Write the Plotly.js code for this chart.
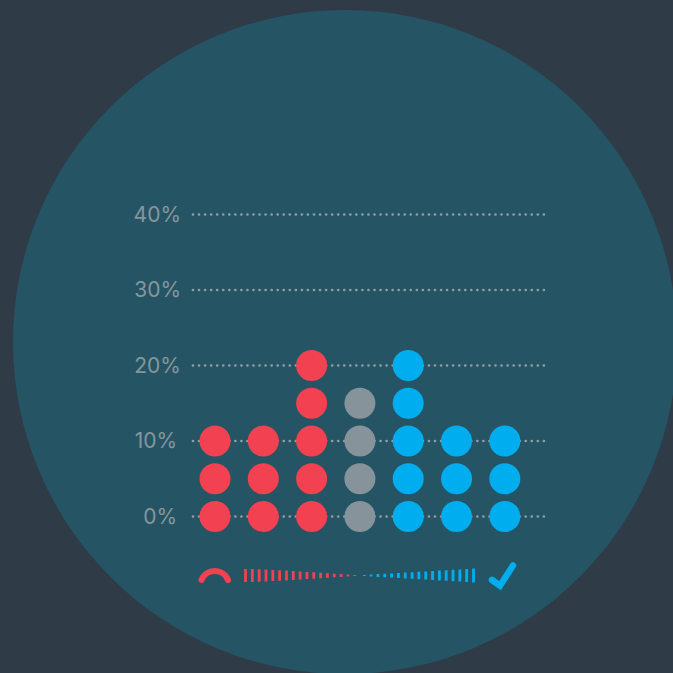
<!DOCTYPE html>
<html>
<head>
<meta charset="utf-8">
<script src="https://cdn.plot.ly/plotly-3.0.1.min.js"></script>
<style>
html,body{margin:0;padding:0;background:#2f3c48;overflow:hidden}
.js-line{stroke-linecap:round}
.gridlayer path{shape-rendering:auto !important;stroke-linecap:round}
</style>
</head>
<body>
<div id="chart" style="width:673px;height:673px"></div>
<script>
// Percent stack heights, one dot = 5%
const redColumns = [0, 1, 2];
const redValues = [10, 10, 20];
const grayColumns = [3];
const grayValues = [15];
const blueColumns = [4, 5, 6];
const blueValues = [20, 10, 10];
const dotStep = 5;
const tickValues = [0, 10, 20, 30, 40];
const tickLabels = ['0%\u2009', '10%\u2009', '20%', '30%', '40%'];

// Legend strip: bar heights
const stripRedHeights = [13, 13, 12.5, 12, 11, 10.5, 10, 9, 8, 7, 6.5, 5.5, 4.5, 3.5, 3, 2, 1];
const stripBlueHeights = [1, 2, 3, 3.5, 4, 5, 6, 6.5, 7.5, 8, 9, 10, 10.5, 11.5, 12, 13, 14];
const stripBlueOffset = 17.4;

// Icons
const arcX = [201.5, 204, 208.5, 214.7, 221, 225.5, 228];
const arcY = [580, 575.8, 572.4, 571, 572.4, 575.8, 580];
const checkX = [492, 500, 513];
const checkY = [580, 585.7, 565.5];

const RED = '#f24150', GRAY = '#87939b', BLUE = '#00aeef', TEXT = '#87959c';
const LINE_NS_SCALE = 1.4;

function dots(cols, vals, color) {
  const x = [], y = [];
  cols.forEach((c, i) => {
    for (let v = 0; v <= vals[i]; v += dotStep) { x.push(c); y.push(v); }
  });
  return {type: 'scatter', mode: 'markers', x, y, xaxis: 'x', yaxis: 'y', cliponaxis: false,
    hoverinfo: 'skip', showlegend: false, marker: {size: 31, color, line: {width: 0}}};
}
function strip(pos, heights, color) {
  return {type: 'scatter', mode: 'markers', x: pos, y: heights.map(() => 0), xaxis: 'x2', yaxis: 'y2',
    cliponaxis: false, hoverinfo: 'skip', showlegend: false,
    marker: {symbol: 'line-ns', size: heights.map(h => h / LINE_NS_SCALE), opacity: 1, color, line: {color, width: 2.8}}};
}
function icon(x, y, color, width, shape) {
  return {type: 'scatter', mode: 'lines', x, y, xaxis: 'x3', yaxis: 'y3', cliponaxis: false,
    hoverinfo: 'skip', showlegend: false, line: {color, width, shape, simplify: false}};
}

const traces = [
  dots(redColumns, redValues, RED),
  dots(grayColumns, grayValues, GRAY),
  dots(blueColumns, blueValues, BLUE),
  strip(stripRedHeights.map((_, i) => i), stripRedHeights, RED),
  strip(stripBlueHeights.map((_, i) => i + stripBlueOffset), stripBlueHeights, BLUE),
  icon(arcX, arcY, RED, 6, 'spline'),
  icon(checkX, checkY, BLUE, 6.5, 'linear')
];

const S = 673;
const PX_PER_UNIT = 7.55;
const layout = {
  width: S, height: S, autosize: false,
  margin: {l: 0, r: 0, t: 0, b: 0},
  paper_bgcolor: '#2f3c48', plot_bgcolor: 'rgba(0,0,0,0)',
  showlegend: false,
  font: {family: 'Inter, sans-serif'},
  xaxis: {domain: [193 / S, 548 / S], range: [-0.4555, 6.894], visible: false, showgrid: false, zeroline: false, fixedrange: true},
  yaxis: {domain: [(S - 516.5 - 2 * PX_PER_UNIT) / S, (S - 214.5 + 2 * PX_PER_UNIT) / S], range: [-2, 42], tickmode: 'array', tickvals: tickValues, ticktext: tickLabels,
    ticks: '', ticklabelstandoff: 11, tickfont: {size: 21, color: TEXT, family: 'Inter, sans-serif'},
    showgrid: true, gridcolor: '#8f9ea6', gridwidth: 2.7, griddash: '0px,6.05px', zeroline: false, showline: false, fixedrange: true},
  xaxis2: {domain: [245.5 / S, 473.5 / S], range: [0, 33.4], anchor: 'y2', visible: false, fixedrange: true},
  yaxis2: {domain: [(S - 580) / S, (S - 571) / S], range: [-1, 1], anchor: 'x2', visible: false, fixedrange: true},
  xaxis3: {domain: [0, 1], range: [0, S], anchor: 'y3', visible: false, fixedrange: true},
  yaxis3: {domain: [0, 1], range: [S, 0], anchor: 'x3', visible: false, fixedrange: true},
  shapes: [{type: 'circle', layer: 'below', xref: 'paper', yref: 'paper', x0: 13 / S, x1: 677 / S, y0: (S - 674) / S, y1: (S - 10) / S,
    fillcolor: '#255565', line: {width: 0}}]
};
Plotly.newPlot('chart', traces, layout, {displayModeBar: false, staticPlot: true});
</script>
</body>
</html>
